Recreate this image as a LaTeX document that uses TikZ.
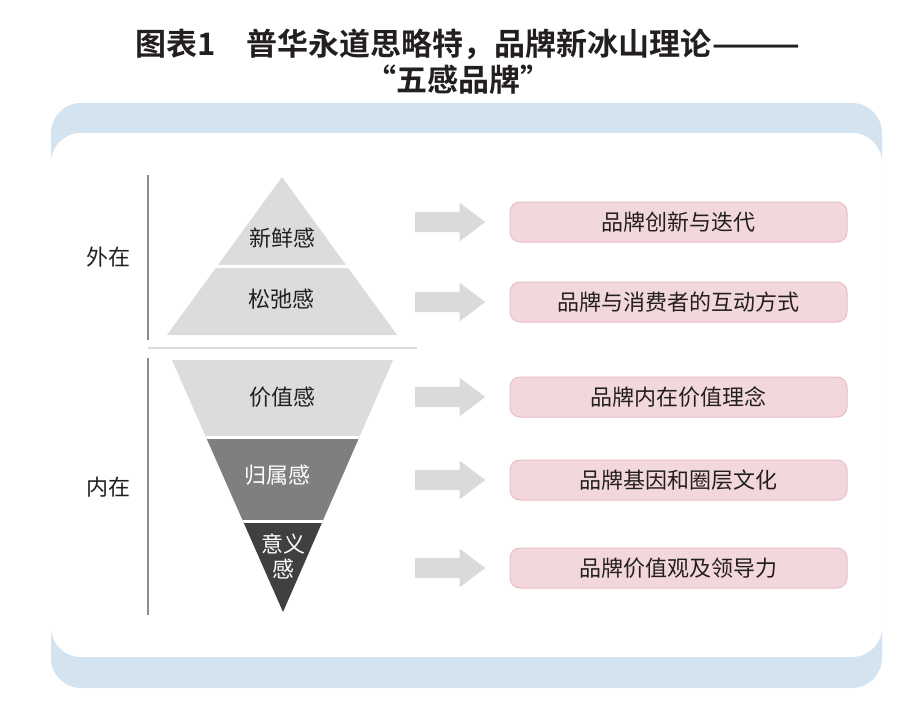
\documentclass[tikz,border=0pt]{standalone}
\usepackage{fontspec}
\setmainfont{Noto Sans CJK SC}[BoldFont={Noto Sans CJK SC Bold}]
\usepackage{xcolor}
\usepackage{graphicx}
\usepackage{tikz}
\usetikzlibrary{shapes.arrows}

\definecolor{panelblue}{HTML}{D3E3EF}
\definecolor{boxpink}{HTML}{F2D8DD}
\definecolor{boxline}{HTML}{E8BEC6}
\definecolor{arrowgray}{HTML}{DADADA}
\definecolor{pyrlight}{HTML}{DCDCDC}
\definecolor{pyrmid}{HTML}{7F7F7F}
\definecolor{pyrdark}{HTML}{404040}
\definecolor{textdark}{HTML}{231F20}

\tikzset{
  label/.style={font=\fontsize{22}{25}\selectfont, text=textdark, inner sep=0pt},
  titletext/.style={font=\fontsize{31}{34}\selectfont\bfseries, text=textdark, inner sep=0pt},
  infobox/.style={label, rounded corners=10pt, fill=boxpink, draw=boxline, line width=1pt,
    minimum width=337pt, minimum height=40pt},
  arrowshape/.style={shape=single arrow, fill=arrowgray, draw=none, inner xsep=0pt, inner ysep=10pt,
    minimum height=70pt, single arrow head extend=9pt,
    single arrow tip angle=74, anchor=tail},
  sideline/.style={draw=gray!90, line width=1.2pt},
}

\begin{document}
\begin{tikzpicture}[x=1pt,y=-1pt]
			\useasboundingbox (0,0) rectangle (918,717);
			% Tieu de
			\node[titletext] (title1) at (468,44) {图表1\hspace{1em}普华永道思略特，品牌新冰山理论\scalebox{1.7}[1]{——}};
			\node[titletext] (title2) at (458,80) {“五感品牌”};
			% Nen
			\fill[panelblue, rounded corners=30pt] (51,103) rectangle (882,688);
			\fill[white, rounded corners=30pt] (51,133) rectangle (882,657);
			% Truc ben trai
			\draw[sideline] (148,175) -- (148,340);
			\draw[sideline] (148,358) -- (148,615);
			\draw[pyrlight, line width=2pt] (148,348) -- (417,348);
			\node[label] (outer) at (108,257) {外在};
			\node[label] (inner) at (108,487) {内在};
			% Kim tu thap tren
			\fill[pyrlight] (282,177) -- (397,335) -- (167,335) -- cycle;
			\draw[white, line width=3pt] (200,266) -- (360,266);
			\node[label] (fresh) at (282,238) {新鲜感};
			\node[label] (relax) at (281,299) {松弛感};
			% Kim tu thap nguoc
			\begin{scope}
			\clip (172,360) -- (393,360) -- (283,612) -- cycle;
			\fill[pyrlight] (150,355) rectangle (420,437);
			\fill[pyrmid] (150,437) rectangle (420,521);
			\fill[pyrdark] (150,521) rectangle (420,620);
			\draw[white, line width=3pt] (150,437) -- (420,437) (150,521) -- (420,521);
			\end{scope}
			\node[label] (value) at (282,397) {价值感};
			\node[label, text=white] (belong) at (277,475) {归属感};
			\node[label, text=white, align=center] (meaning) at (283,556) {意义\\感};
			% Mui ten va hop
			\foreach \y/\t [count=\i] in {222/品牌创新与迭代,302/品牌与消费者的互动方式,397/品牌内在价值理念,480/品牌基因和圈层文化,568/品牌价值观及领导力}
			{
			\node[arrowshape] (arr\i) at (415,\y) {};
			\node[infobox] (box\i) at (678.5,\y) {\t};
			}
\end{tikzpicture}
\end{document}
